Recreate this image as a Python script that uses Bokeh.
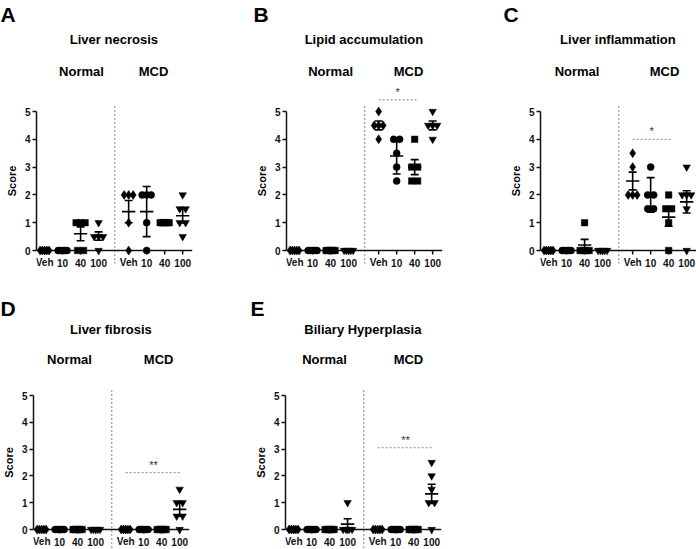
import numpy as np
from bokeh.plotting import figure
from bokeh.models import Range1d, FixedTicker, ColumnDataSource
from bokeh.layouts import column, row
from bokeh.embed import file_html
from bokeh.resources import INLINE
from bokeh.core.properties import value

FONT = "Liberation Sans"

# ---------------- data ----------------
positions = [1, 2, 3, 4, 5.67, 6.67, 7.67, 8.67]
tick_labels = ["Veh", "10", "40", "100", "Veh", "10", "40", "100"]
diet_labels = ["Normal", "MCD"]
group_markers = ["diamond", "circle", "square", "inverted_triangle"] * 2
Z5 = [0, 0, 0, 0, 0]

necrosis_points = [Z5, Z5, [1, 1, 1, 0, 0], [1, 0.5, 0.5, 0.5, 0],
                   [2, 2, 2, 1, 0], [2, 2, 2, 1, 0], [1, 1, 1, 1, 1], [2, 1.5, 1.5, 1, 1, 0.5]]
necrosis_mean = [0, 0, 0.6, 0.52, 1.4, 1.4, 1.0, 1.25]
necrosis_err = [0, 0, 0.25, 0.15, 0.4, 0.9, 0, 0.26]

lipid_points = [Z5, Z5, Z5, Z5,
                [5, 4.5, 4.5, 4.5, 4], [4, 4, 3.5, 3, 2.5], [4, 3, 3, 2.5, 2.5], [5, 4.5, 4.5, 4.5, 4]]
lipid_mean = [0, 0, 0, 0, 4.5, 3.4, 3.0, 4.5]
lipid_err = [0, 0, 0, 0, 0.16, 0.65, 0.27, 0.16]

inflam_points = [Z5, Z5, [1, 0, 0, 0, 0], Z5,
                 [3.5, 3, 2, 2, 2], [3, 2, 2, 1.5, 1.5], [2, 1.5, 1.5, 1, 0], [3, 2, 2, 2, 1.5, 0]]
inflam_mean = [0, 0, 0.2, 0, 2.5, 2.0, 1.2, 1.75]
inflam_err = [0, 0, 0.2, 0, 0.32, 0.62, 0.33, 0.4]

fibrosis_points = [Z5, Z5, Z5, Z5, Z5, Z5, Z5, [1.5, 1, 1, 0.5, 0.5, 0]]
fibrosis_mean = [0, 0, 0, 0, 0, 0, 0, 0.75]
fibrosis_err = [0, 0, 0, 0, 0, 0, 0, 0.25]

biliary_points = [Z5, Z5, Z5, [1, 0, 0, 0, 0], Z5, Z5, Z5, [2.5, 2, 1.5, 1, 1, 0]]
biliary_mean = [0, 0, 0, 0.2, 0, 0, 0, 1.33]
biliary_err = [0, 0, 0, 0.2, 0, 0, 0, 0.36]

# significance: (from group, to group, label, y level)
lipid_sig = [(4, 6, "*", 5.42)]
inflam_sig = [(4, 6, "*", 4.0)]
fibrosis_sig = [(4, 7, "**", 2.12)]
biliary_sig = [(4, 7, "**", 3.05)]

# ---------------- styling ----------------
PPU_X = 18.0
X_START = 0.55
AX = 18
MSIZE = {"diamond": 9, "circle": 7, "square": 6.5, "inverted_triangle": 7.5}
DASH_COL = "#808080"
INK = "#111111"


def spread(vals):
    counts = {}
    for v in vals:
        counts[v] = counts.get(v, 0) + 1
    seen = {}
    out = []
    for v in vals:
        k = counts[v]
        i = seen.get(v, 0)
        seen[v] = i + 1
        step = min(0.33, 0.5 / (k - 1)) if k > 1 else 0.0
        out.append((i - (k - 1) / 2.0) * step)
    return out


def bare(w, h, xr, yr):
    f = figure(width=w, height=h, x_range=xr, y_range=yr, x_axis_location=None,
               y_axis_location=None, toolbar_location=None, output_backend="svg",
               min_border_left=0, min_border_right=0, min_border_top=0,
               min_border_bottom=0)
    f.outline_line_color = None
    f.grid.visible = False
    return f


def panel(w, h, head_h, bl, y0p, y5p, pts, means, errs, title, letter,
          letter_px, letter_py, title_py, diet_py, diet_x, sig, sep_below=None):
    plot_h = h - head_h
    ppu = (y0p - y5p) / 5.0
    y_start = -(plot_h - y0p) / ppu
    y_end = 5 + y5p / ppu
    strip_w = bl - AX
    x_end = X_START + (w - bl) / PPU_X

    # ---- header: letter, title, diet labels ----
    hd = bare(w, head_h, Range1d(X_START - bl / PPU_X, x_end), Range1d(head_h, 0))
    hd.text(x=[X_START + (letter_px - bl) / PPU_X], y=[letter_py], text=[letter],
            text_font=value(FONT), text_font_style="bold", text_font_size="21px",
            text_align="left", text_baseline="top", text_color="black")
    hd.text(x=[4.85], y=[title_py], text=[title], text_font=value(FONT),
            text_font_style="bold", text_font_size="13px", text_align="center",
            text_baseline="middle", text_color="black")
    hd.text(x=diet_x, y=[diet_py] * len(diet_x), text=diet_labels, text_font=value(FONT),
            text_font_style="bold", text_font_size="13px", text_align="center",
            text_baseline="middle", text_color="black")

    # ---- strip with axis title ----
    st = bare(strip_w, plot_h, Range1d(0, strip_w), Range1d(y_start, y_end))
    st.text(x=[bl - 25], y=[2.5], text=["Score"], angle=np.pi / 2,
            text_font=value(FONT), text_font_style="bold", text_font_size="11px",
            text_align="center", text_baseline="middle", text_color="black")

    # ---- plot ----
    p = figure(width=w - strip_w, height=plot_h, x_range=Range1d(X_START, x_end),
               y_range=Range1d(y_start, y_end), x_axis_location=None,
               y_axis_location="left", toolbar_location=None, output_backend="svg",
               min_border_left=AX, min_border_right=0, min_border_top=0,
               min_border_bottom=0)
    p.outline_line_color = None
    p.grid.visible = False

    ya = p.yaxis[0]
    ya.bounds = (0, 5)
    ya.ticker = FixedTicker(ticks=[0, 1, 2, 3, 4, 5])
    ya.minor_tick_line_color = None
    ya.major_tick_in = 0
    ya.major_tick_out = 4
    ya.major_tick_line_width = 1.5
    ya.axis_line_width = 1.5
    ya.axis_line_color = INK
    ya.major_tick_line_color = INK
    ya.major_label_text_font = FONT
    ya.major_label_text_font_style = "bold"
    ya.major_label_text_font_size = "10px"
    ya.major_label_text_color = INK
    ya.major_label_standoff = 2

    # separator
    yb = y_start if sep_below is None else -sep_below / ppu
    p.segment(x0=[4.9], y0=[5.2], x1=[4.9], y1=[yb], line_color=DASH_COL,
              line_width=1, line_dash="2 2")

    # x axis
    p.segment(x0=[positions[0] - 0.45], y0=[0], x1=[positions[-1] + 0.53], y1=[0],
              line_color=INK, line_width=1.5)
    p.segment(x0=positions, y0=[0] * 8, x1=positions, y1=[-4 / ppu] * 8,
              line_color=INK, line_width=1.5)
    src_t = ColumnDataSource(dict(x=positions, y=[-12 / ppu] * 8, t=tick_labels))
    p.text(x="x", y="y", text="t", source=src_t, text_align="center",
           text_baseline="middle", text_font=value(FONT), text_font_style="bold",
           text_font_size="10px", text_color=INK)

    # means and error bars
    p.segment(x0=[x - 0.37 for x in positions], y0=means,
              x1=[x + 0.37 for x in positions], y1=means, line_color="black", line_width=1.6)
    ex, elo, ehi = [], [], []
    for x, m, e in zip(positions, means, errs):
        if e > 0:
            ex.append(x)
            elo.append(m - e)
            ehi.append(m + e)
    if ex:
        p.segment(x0=ex, y0=elo, x1=ex, y1=ehi, line_color="black", line_width=1.6)
        for yy in (elo, ehi):
            p.segment(x0=[x - 0.22 for x in ex], y0=yy, x1=[x + 0.22 for x in ex], y1=yy,
                      line_color="black", line_width=1.6)

    # points
    for x, vals, mk in zip(positions, pts, group_markers):
        offs = spread(vals)
        p.scatter(x=[x + o for o in offs], y=vals, marker=mk, size=MSIZE[mk],
                  fill_color="black", line_color="black", line_width=0.5)

    # significance
    for i, j, lab, ylev in sig:
        x0 = positions[i]
        x1 = positions[j] + 0.1
        p.segment(x0=[x0], y0=[ylev], x1=[x1], y1=[ylev], line_color=DASH_COL,
                  line_width=1, line_dash="2 2")
        p.text(x=[(x0 + x1) / 2], y=[ylev + 8 / ppu], text=[lab], text_align="center",
               text_baseline="middle", text_font=value(FONT), text_font_size="11px",
               text_color="#333333")

    return column(hd, row(st, p))


R1 = dict(h=270, head_h=84, y0p=166, y5p=27, letter_py=2, title_py=39, diet_py=71,
          sep_below=13)
R2 = dict(h=279, head_h=100, y0p=159, y5p=25, letter_py=26, title_py=59, diet_py=89)

pA = panel(232, bl=36, pts=necrosis_points, means=necrosis_mean, errs=necrosis_err,
           title="Liver necrosis", letter="A", letter_px=0, diet_x=[3.05, 7.05],
           sig=[], **R1)
pB = panel(232, bl=54, pts=lipid_points, means=lipid_mean, errs=lipid_err,
           title="Lipid accumulation", letter="B", letter_px=21, diet_x=[3.0, 7.33],
           sig=lipid_sig, **R1)
pC = panel(232, bl=76, pts=inflam_points, means=inflam_mean, errs=inflam_err,
           title="Liver inflammation", letter="C", letter_px=39, diet_x=[2.58, 7.44],
           sig=inflam_sig, **R1)
pD = panel(232, bl=33, pts=fibrosis_points, means=fibrosis_mean, errs=fibrosis_err,
           title="Liver fibrosis", letter="D", letter_px=0, diet_x=[2.55, 7.5],
           sig=fibrosis_sig, **R2)
pE = panel(232, bl=53, pts=biliary_points, means=biliary_mean, errs=biliary_err,
           title="Biliary Hyperplasia", letter="E", letter_px=18, diet_x=[2.72, 7.38],
           sig=biliary_sig, **R2)

layout = column(row(pA, pB, pC), row(pD, pE))
open("out.html", "w").write(file_html(layout, INLINE))
